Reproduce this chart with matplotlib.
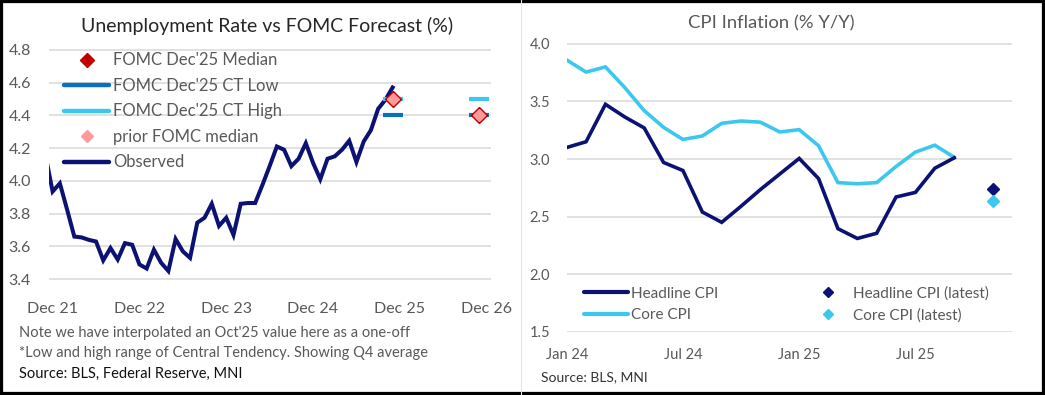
import matplotlib
matplotlib.use("Agg")
import matplotlib.pyplot as plt
from matplotlib.lines import Line2D
from matplotlib.patches import Rectangle
import numpy as np

plt.rcParams["font.family"] = ["Lato", "DejaVu Sans"]

# ---- unemployment (monthly, index 0 = Nov 21; Oct'25 interpolated) ----
unemp = [4.16, 3.935, 3.985, 3.825, 3.66, 3.655, 3.64, 3.63, 3.515, 3.59,
         3.52, 3.62, 3.61, 3.49, 3.465, 3.58, 3.50, 3.45, 3.645, 3.57,
         3.53, 3.745, 3.775, 3.86, 3.725, 3.775, 3.67, 3.86, 3.865, 3.865,
         3.975, 4.09, 4.21, 4.19, 4.09, 4.135, 4.23, 4.11, 4.01, 4.135,
         4.15, 4.19, 4.245, 4.115, 4.24, 4.31, 4.44, 4.495, 4.57]
unemp_x = np.arange(len(unemp))

# FOMC Dec'25 SEP, Q4 averages (drawn at the Nov'25 / Nov'26 slots)
fomc_x = [48, 60]
fomc_median = [4.5, 4.4]
fomc_ct_low = [4.4, 4.4]
fomc_ct_high = [4.5, 4.5]
fomc_prior = [4.5, 4.4]

unemp_ticks = [1, 13, 25, 37, 49, 61]
unemp_ticklabels = ["Dec 21", "Dec 22", "Dec 23", "Dec 24", "Dec 25", "Dec 26"]
unemp_yticks = [3.4, 3.6, 3.8, 4.0, 4.2, 4.4, 4.6, 4.8]

# ---- CPI (monthly, index 0 = Jan 24) ----
headline = [3.10, 3.15, 3.475, 3.365, 3.27, 2.97, 2.90, 2.54, 2.45, 2.59,
            2.735, 2.87, 3.005, 2.83, 2.395, 2.31, 2.355, 2.67, 2.71, 2.92, 3.01]
core = [3.86, 3.755, 3.80, 3.62, 3.42, 3.275, 3.17, 3.20, 3.31, 3.33,
        3.32, 3.235, 3.255, 3.115, 2.795, 2.785, 2.795, 2.935, 3.06, 3.12, 3.015]
cpi_x = np.arange(len(headline))
latest_x = [22]
headline_latest = [2.74]
core_latest = [2.635]

cpi_ticks = [0, 6, 12, 18]
cpi_ticklabels = ["Jan 24", "Jul 24", "Jan 25", "Jul 25"]
cpi_yticks = [1.5, 2.0, 2.5, 3.0, 3.5, 4.0]

navy = "#0C1273"
cyan = "#3CC8EE"
blue = "#0B6FC0"
red = "#C00000"
pink = "#FF9A9A"
grey = "#595959"
gridc = "#D9D9D9"

W, H = 1045, 395
fig = plt.figure(figsize=(W / 100, H / 100), dpi=100)


def box(l, r, t, b):
    return [l / W, 1 - b / H, (r - l) / W, (b - t) / H]


def style(ax, fs):
    for s in ax.spines.values():
        s.set_visible(False)
    ax.grid(axis="y", color=gridc, lw=1.1)
    ax.set_axisbelow(True)
    ax.tick_params(length=0, labelsize=fs, labelcolor=grey)


# ---------------- left: unemployment ----------------
ax1 = fig.add_axes(box(49, 491, 49, 280))
style(ax1, 11.5)
ax1.plot(unemp_x, unemp, color=navy, lw=2.9, solid_joinstyle="miter", zorder=3)
ax1.plot(fomc_x, fomc_ct_high, ls="none", marker="_", ms=14, mew=3, color=cyan, zorder=4)
ax1.plot(fomc_x, fomc_ct_low, ls="none", marker="_", ms=14, mew=3, color=blue, zorder=4)
ax1.plot(fomc_x, fomc_median, ls="none", marker="D", ms=8.5, color=red, zorder=5)
ax1.plot(fomc_x, fomc_prior, ls="none", marker="D", ms=6, color=pink, zorder=6)
ax1.set_xlim(0.5, 61.6)
ax1.set_ylim(3.395, 4.805)
ax1.set_yticks(unemp_yticks)
ax1.set_yticklabels([f"{v:.1f}" for v in unemp_yticks])
ax1.set_xticks(unemp_ticks)
ax1.set_xticklabels(unemp_ticklabels)
ax1.tick_params(axis="y", pad=13)
ax1.tick_params(axis="x", pad=16)

h1 = [
    Line2D([], [], ls="none", marker="D", ms=7, color=red),
    Line2D([], [], lw=3.2, color=blue, solid_capstyle="round"),
    Line2D([], [], lw=3.2, color=cyan, solid_capstyle="round"),
    Line2D([], [], ls="none", marker="D", ms=6, color=pink),
    Line2D([], [], lw=3.2, color=navy, solid_capstyle="round"),
]
l1 = ["FOMC Dec'25 Median", "FOMC Dec'25 CT Low", "FOMC Dec'25 CT High",
      "prior FOMC median", "Observed"]
ax1.legend(h1, l1, loc="upper left", bbox_to_anchor=(0.034, 0.985), frameon=False,
           fontsize=12, labelcolor=grey, handlelength=2.7, handletextpad=0.25,
           borderpad=0, borderaxespad=0, labelspacing=0.57)

fig.text(267 / W, 1 - 26 / H, "Unemployment Rate vs FOMC Forecast (%)",
         ha="center", va="center", fontsize=14, color="#262626")
fig.text(19 / W, 1 - 333 / H, "Note we have interpolated an Oct'25 value here as a one-off",
         ha="left", va="center", fontsize=10.5, color=grey)
fig.text(19 / W, 1 - 353.5 / H, "*Low and high range of Central Tendency. Showing Q4 average",
         ha="left", va="center", fontsize=10.5, color=grey)
fig.text(19 / W, 1 - 373.5 / H, "Source: BLS, Federal Reserve, MNI",
         ha="left", va="center", fontsize=10.5, color="#111111")

# ---------------- right: CPI ----------------
ax2 = fig.add_axes(box(566.7, 1012.3, 43.3, 332.3))
style(ax2, 10.5)
ax2.plot(cpi_x, core, color=cyan, lw=2.6, solid_joinstyle="miter", zorder=3)
ax2.plot(cpi_x, headline, color=navy, lw=2.6, solid_joinstyle="miter", zorder=3)
ax2.plot(latest_x, headline_latest, ls="none", marker="D", ms=6, color=navy, zorder=4)
ax2.plot(latest_x, core_latest, ls="none", marker="D", ms=6, color=cyan, zorder=4)
ax2.set_xlim(0, 23)
ax2.set_ylim(1.495, 4.005)
ax2.set_yticks(cpi_yticks)
ax2.set_yticklabels([f"{v:.1f}" for v in cpi_yticks])
ax2.set_xticks(cpi_ticks)
ax2.set_xticklabels(cpi_ticklabels)
ax2.tick_params(axis="y", pad=12)
ax2.tick_params(axis="x", pad=11.5)

h2 = [
    Line2D([], [], lw=3, color=navy, solid_capstyle="round"),
    Line2D([], [], lw=3, color=cyan, solid_capstyle="round"),
    Line2D([], [], ls="none", marker="D", ms=5.5, color=navy),
    Line2D([], [], ls="none", marker="D", ms=5.5, color=cyan),
]
l2 = ["Headline CPI", "Core CPI", "Headline CPI (latest)", "Core CPI (latest)"]
ax2.legend(h2, l2, ncol=2, loc="lower left", bbox_to_anchor=(0.039, 0.033),
           frameon=False, fontsize=11, labelcolor=grey, handlelength=2.87,
           handletextpad=0.22, columnspacing=5.7, borderpad=0, borderaxespad=0,
           labelspacing=0.5)

fig.text(771.7 / W, 1 - 23 / H, "CPI Inflation (% Y/Y)", ha="center", va="center",
         fontsize=13.3, color=grey)
fig.text(540.7 / W, 1 - 377 / H, "Source: BLS, MNI", ha="left", va="center",
         fontsize=10, color="#333333")

# divider and outer frame
fig.add_artist(Line2D([521 / W, 521 / W], [0, 1], color="#E3E3E3", lw=0.8))
fig.add_artist(Rectangle((0, 0), 1, 1, transform=fig.transFigure, fill=False,
                         ec="black", lw=4.5))

fig.savefig("out.png", dpi=100)
